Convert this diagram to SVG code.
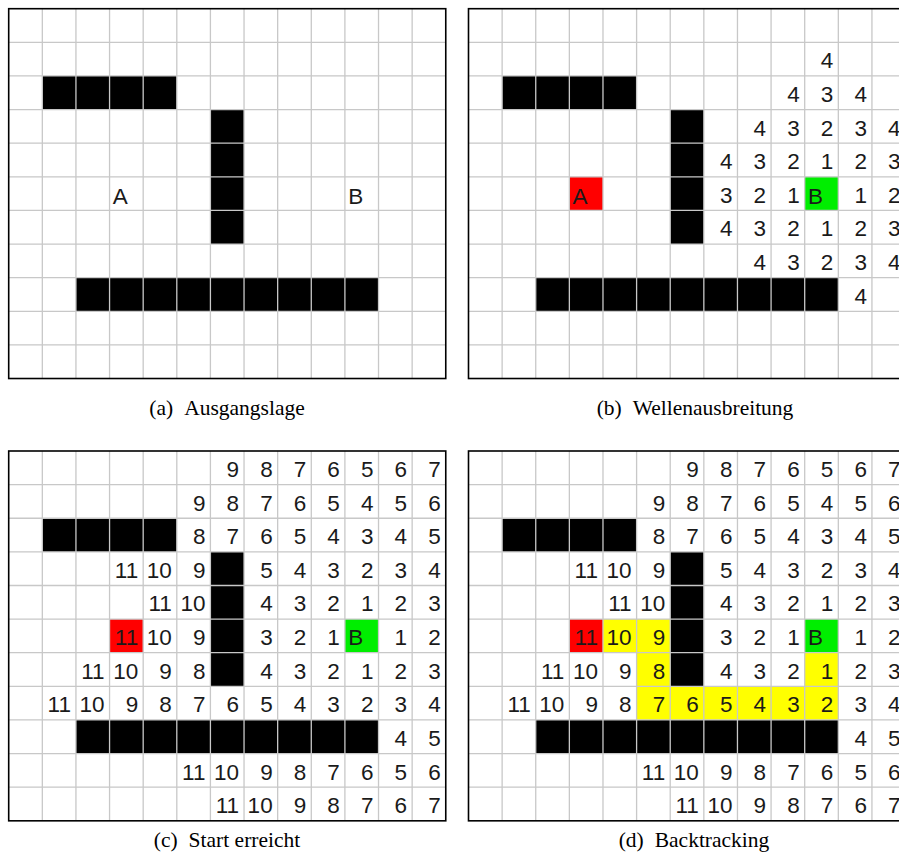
<svg xmlns="http://www.w3.org/2000/svg" xmlns:xlink="http://www.w3.org/1999/xlink" width="899" height="864" viewBox="0 0 899 864">
<style>
.bg{fill:#fff}
.wall{fill:#000}
.start{fill:#ff0000}
.goal{fill:#00ee00}
.path{fill:#ffff00}
.gl{stroke:#c8c8c8;stroke-width:1.3;fill:none}
.frame{fill:none;stroke:#000;stroke-width:1.6}
.n{font-family:"Liberation Sans",Arial,sans-serif;font-size:22.5px;fill:#1a1a1a;text-anchor:end}
.l{font-family:"Liberation Sans",Arial,sans-serif;font-size:22.5px;fill:#1a1a1a}
.cap{font-family:"Liberation Serif","Times New Roman",serif;font-size:21.5px;fill:#000;text-anchor:middle}
</style>
<defs>
<g id="grid" class="gl">
<path d="M33.62 0V369.82M67.24 0V369.82M100.86 0V369.82M134.48 0V369.82M168.1 0V369.82M201.72 0V369.82M235.34 0V369.82M268.96 0V369.82M302.58 0V369.82M336.2 0V369.82M369.82 0V369.82M403.44 0V369.82"/>
<path d="M0 33.62H437.06M0 67.24H437.06M0 100.86H437.06M0 134.48H437.06M0 168.1H437.06M0 201.72H437.06M0 235.34H437.06M0 268.96H437.06M0 302.58H437.06M0 336.2H437.06"/>
</g>
<g id="walls" class="wall">
<rect x="33.62" y="67.24" width="134.48" height="33.62"/>
<rect x="201.72" y="100.86" width="33.62" height="134.48"/>
<rect x="67.24" y="268.96" width="302.58" height="33.62"/>
</g>
<g id="nums">
<text class="n" x="230.34" y="26">9</text><text class="n" x="263.96" y="26">8</text><text class="n" x="297.58" y="26">7</text><text class="n" x="331.2" y="26">6</text><text class="n" x="364.82" y="26">5</text><text class="n" x="398.44" y="26">6</text><text class="n" x="432.06" y="26">7</text>
<text class="n" x="196.72" y="59.62">9</text><text class="n" x="230.34" y="59.62">8</text><text class="n" x="263.96" y="59.62">7</text><text class="n" x="297.58" y="59.62">6</text><text class="n" x="331.2" y="59.62">5</text><text class="n" x="364.82" y="59.62">4</text><text class="n" x="398.44" y="59.62">5</text><text class="n" x="432.06" y="59.62">6</text>
<text class="n" x="196.72" y="93.24">8</text><text class="n" x="230.34" y="93.24">7</text><text class="n" x="263.96" y="93.24">6</text><text class="n" x="297.58" y="93.24">5</text><text class="n" x="331.2" y="93.24">4</text><text class="n" x="364.82" y="93.24">3</text><text class="n" x="398.44" y="93.24">4</text><text class="n" x="432.06" y="93.24">5</text>
<text class="n" x="129.48" y="126.86">11</text><text class="n" x="163.1" y="126.86">10</text><text class="n" x="196.72" y="126.86">9</text><text class="n" x="263.96" y="126.86">5</text><text class="n" x="297.58" y="126.86">4</text><text class="n" x="331.2" y="126.86">3</text><text class="n" x="364.82" y="126.86">2</text><text class="n" x="398.44" y="126.86">3</text><text class="n" x="432.06" y="126.86">4</text>
<text class="n" x="163.1" y="160.48">11</text><text class="n" x="196.72" y="160.48">10</text><text class="n" x="263.96" y="160.48">4</text><text class="n" x="297.58" y="160.48">3</text><text class="n" x="331.2" y="160.48">2</text><text class="n" x="364.82" y="160.48">1</text><text class="n" x="398.44" y="160.48">2</text><text class="n" x="432.06" y="160.48">3</text>
<text class="n" x="129.48" y="194.1">11</text><text class="n" x="163.1" y="194.1">10</text><text class="n" x="196.72" y="194.1">9</text><text class="n" x="263.96" y="194.1">3</text><text class="n" x="297.58" y="194.1">2</text><text class="n" x="331.2" y="194.1">1</text><text class="n" x="398.44" y="194.1">1</text><text class="n" x="432.06" y="194.1">2</text>
<text class="n" x="95.86" y="227.72">11</text><text class="n" x="129.48" y="227.72">10</text><text class="n" x="163.1" y="227.72">9</text><text class="n" x="196.72" y="227.72">8</text><text class="n" x="263.96" y="227.72">4</text><text class="n" x="297.58" y="227.72">3</text><text class="n" x="331.2" y="227.72">2</text><text class="n" x="364.82" y="227.72">1</text><text class="n" x="398.44" y="227.72">2</text><text class="n" x="432.06" y="227.72">3</text>
<text class="n" x="62.24" y="261.34">11</text><text class="n" x="95.86" y="261.34">10</text><text class="n" x="129.48" y="261.34">9</text><text class="n" x="163.1" y="261.34">8</text><text class="n" x="196.72" y="261.34">7</text><text class="n" x="230.34" y="261.34">6</text><text class="n" x="263.96" y="261.34">5</text><text class="n" x="297.58" y="261.34">4</text><text class="n" x="331.2" y="261.34">3</text><text class="n" x="364.82" y="261.34">2</text><text class="n" x="398.44" y="261.34">3</text><text class="n" x="432.06" y="261.34">4</text>
<text class="n" x="398.44" y="294.96">4</text><text class="n" x="432.06" y="294.96">5</text>
<text class="n" x="196.72" y="328.58">11</text><text class="n" x="230.34" y="328.58">10</text><text class="n" x="263.96" y="328.58">9</text><text class="n" x="297.58" y="328.58">8</text><text class="n" x="331.2" y="328.58">7</text><text class="n" x="364.82" y="328.58">6</text><text class="n" x="398.44" y="328.58">5</text><text class="n" x="432.06" y="328.58">6</text>
<text class="n" x="230.34" y="362.2">11</text><text class="n" x="263.96" y="362.2">10</text><text class="n" x="297.58" y="362.2">9</text><text class="n" x="331.2" y="362.2">8</text><text class="n" x="364.82" y="362.2">7</text><text class="n" x="398.44" y="362.2">6</text><text class="n" x="432.06" y="362.2">7</text>
</g>
</defs>

<g id="panel-a" transform="translate(8.7,8.7)">
<rect class="bg" width="437.06" height="369.82"/>
<use xlink:href="#walls"/>
<use xlink:href="#grid"/>
<rect class="frame" width="437.06" height="369.82"/>
<text class="l" x="104" y="195.5">A</text>
<text class="l" x="339.5" y="195.5">B</text>
</g>

<g id="panel-b" transform="translate(468.5,8.7)">
<rect class="bg" width="437.06" height="369.82"/>
<use xlink:href="#walls"/>
<rect class="start" x="100.86" y="168.1" width="33.62" height="33.62"/>
<rect class="goal" x="336.2" y="168.1" width="33.62" height="33.62"/>
<use xlink:href="#grid"/>
<rect class="frame" width="437.06" height="369.82"/>
<text class="l" x="104" y="195.5">A</text>
<text class="l" x="339.5" y="195.5">B</text>
<text class="n" x="364.82" y="59.62">4</text>
<text class="n" x="331.2" y="93.24">4</text><text class="n" x="364.82" y="93.24">3</text><text class="n" x="398.44" y="93.24">4</text>
<text class="n" x="297.58" y="126.86">4</text><text class="n" x="331.2" y="126.86">3</text><text class="n" x="364.82" y="126.86">2</text><text class="n" x="398.44" y="126.86">3</text><text class="n" x="432.06" y="126.86">4</text>
<text class="n" x="263.96" y="160.48">4</text><text class="n" x="297.58" y="160.48">3</text><text class="n" x="331.2" y="160.48">2</text><text class="n" x="364.82" y="160.48">1</text><text class="n" x="398.44" y="160.48">2</text><text class="n" x="432.06" y="160.48">3</text>
<text class="n" x="263.96" y="194.1">3</text><text class="n" x="297.58" y="194.1">2</text><text class="n" x="331.2" y="194.1">1</text><text class="n" x="398.44" y="194.1">1</text><text class="n" x="432.06" y="194.1">2</text>
<text class="n" x="263.96" y="227.72">4</text><text class="n" x="297.58" y="227.72">3</text><text class="n" x="331.2" y="227.72">2</text><text class="n" x="364.82" y="227.72">1</text><text class="n" x="398.44" y="227.72">2</text><text class="n" x="432.06" y="227.72">3</text>
<text class="n" x="297.58" y="261.34">4</text><text class="n" x="331.2" y="261.34">3</text><text class="n" x="364.82" y="261.34">2</text><text class="n" x="398.44" y="261.34">3</text><text class="n" x="432.06" y="261.34">4</text>
<text class="n" x="398.44" y="294.96">4</text>
</g>

<g id="panel-c" transform="translate(8.7,451)">
<rect class="bg" width="437.06" height="369.82"/>
<use xlink:href="#walls"/>
<rect class="start" x="100.86" y="168.1" width="33.62" height="33.62"/>
<rect class="goal" x="336.2" y="168.1" width="33.62" height="33.62"/>
<use xlink:href="#grid"/>
<rect class="frame" width="437.06" height="369.82"/>
<use xlink:href="#nums"/>
<text class="l" x="339.5" y="194.1">B</text>
</g>

<g id="panel-d" transform="translate(468.5,451)">
<rect class="bg" width="437.06" height="369.82"/>
<use xlink:href="#walls"/>
<rect class="start" x="100.86" y="168.1" width="33.62" height="33.62"/>
<rect class="goal" x="336.2" y="168.1" width="33.62" height="33.62"/>
<rect class="path" x="134.48" y="168.1" width="67.24" height="33.62"/>
<rect class="path" x="168.1" y="201.72" width="33.62" height="33.62"/>
<rect class="path" x="168.1" y="235.34" width="201.72" height="33.62"/>
<rect class="path" x="336.2" y="201.72" width="33.62" height="33.62"/>
<use xlink:href="#grid"/>
<rect class="frame" width="437.06" height="369.82"/>
<use xlink:href="#nums"/>
<text class="l" x="339.5" y="194.1">B</text>
</g>

<g id="captions">
<text class="cap" x="227" y="415">(a)<tspan dx="11">Ausgangslage</tspan></text>
<text class="cap" x="695" y="415">(b)<tspan dx="11">Wellenausbreitung</tspan></text>
<text class="cap" x="227" y="847">(c)<tspan dx="11">Start erreicht</tspan></text>
<text class="cap" x="694" y="847">(d)<tspan dx="11">Backtracking</tspan></text>
</g>
</svg>
